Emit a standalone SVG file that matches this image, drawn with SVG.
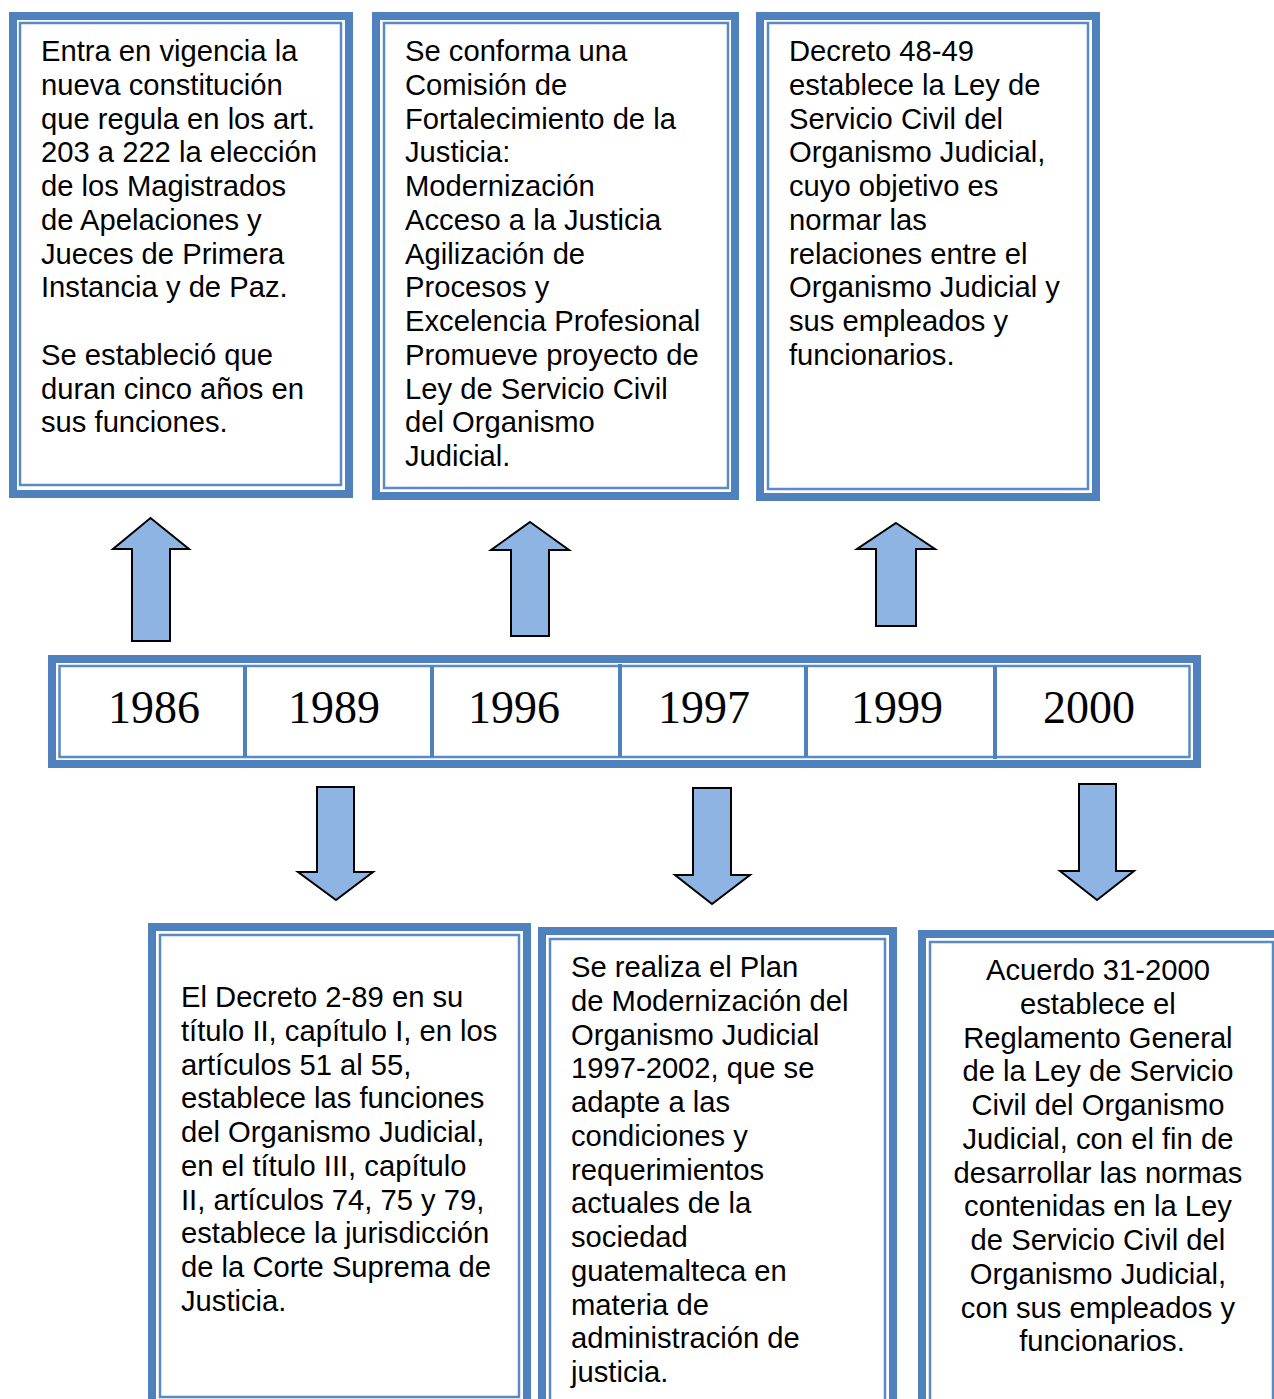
<svg xmlns="http://www.w3.org/2000/svg" width="1274" height="1399" viewBox="0 0 1274 1399">
<style>
.ob{fill:#ffffff;stroke:#4F81BD;stroke-width:8}
.ib{fill:none;stroke:#5A8AC6;stroke-width:2.5}
.t{font-family:"Liberation Sans",Arial,sans-serif;font-size:29.2px;fill:#000}
.c{text-anchor:middle}
.yr{font-family:"Liberation Serif","Times New Roman",serif;font-size:46px;fill:#000;text-anchor:middle}
.ar{fill:#8EB4E3;stroke:#000;stroke-width:2;stroke-linejoin:miter}
.dv{stroke:#4F81BD;stroke-width:4}
</style>
<rect width="1274" height="1399" fill="#ffffff"/>

<g id="box-1986">
<rect class="ob" x="13" y="16" width="336" height="478"/>
<rect class="ib" x="20" y="23" width="321" height="462"/>
<text class="t">
<tspan x="41" y="61">Entra en vigencia la</tspan>
<tspan x="41" y="94.75">nueva constitución</tspan>
<tspan x="41" y="128.5">que regula en los art.</tspan>
<tspan x="41" y="162.25">203 a 222 la elección</tspan>
<tspan x="41" y="196">de los Magistrados</tspan>
<tspan x="41" y="229.75">de Apelaciones y</tspan>
<tspan x="41" y="263.5">Jueces de Primera</tspan>
<tspan x="41" y="297.25">Instancia y de Paz.</tspan>
<tspan x="41" y="364.75">Se estableció que</tspan>
<tspan x="41" y="398.5">duran cinco años en</tspan>
<tspan x="41" y="432.25">sus funciones.</tspan>
</text>
</g>

<g id="box-1996">
<rect class="ob" x="376" y="16" width="359" height="480"/>
<rect class="ib" x="384" y="23" width="344" height="465"/>
<text class="t">
<tspan x="405" y="61">Se conforma una</tspan>
<tspan x="405" y="94.75">Comisión de</tspan>
<tspan x="405" y="128.5">Fortalecimiento de la</tspan>
<tspan x="405" y="162.25">Justicia:</tspan>
<tspan x="405" y="196">Modernización</tspan>
<tspan x="405" y="229.75">Acceso a la Justicia</tspan>
<tspan x="405" y="263.5">Agilización de</tspan>
<tspan x="405" y="297.25">Procesos y</tspan>
<tspan x="405" y="331">Excelencia Profesional</tspan>
<tspan x="405" y="364.75">Promueve proyecto de</tspan>
<tspan x="405" y="398.5">Ley de Servicio Civil</tspan>
<tspan x="405" y="432.25">del Organismo</tspan>
<tspan x="405" y="466">Judicial.</tspan>
</text>
</g>

<g id="box-1999">
<rect class="ob" x="760" y="16" width="336" height="481"/>
<rect class="ib" x="768" y="23" width="320" height="466"/>
<text class="t">
<tspan x="789" y="61">Decreto 48-49</tspan>
<tspan x="789" y="94.75">establece la Ley de</tspan>
<tspan x="789" y="128.5">Servicio Civil del</tspan>
<tspan x="789" y="162.25">Organismo Judicial,</tspan>
<tspan x="789" y="196">cuyo objetivo es</tspan>
<tspan x="789" y="229.75">normar las</tspan>
<tspan x="789" y="263.5">relaciones entre el</tspan>
<tspan x="789" y="297.25">Organismo Judicial y</tspan>
<tspan x="789" y="331">sus empleados y</tspan>
<tspan x="789" y="364.75">funcionarios.</tspan>
</text>
</g>

<g id="timeline">
<rect class="ob" x="52" y="659" width="1145" height="105"/>
<rect class="ib" x="59.5" y="666" width="1130" height="91"/>
<line class="dv" x1="245" y1="666" x2="245" y2="757"/>
<line class="dv" x1="432" y1="666" x2="432" y2="757"/>
<line class="dv" x1="620" y1="664" x2="620" y2="757"/>
<line class="dv" x1="806" y1="666" x2="806" y2="757"/>
<line class="dv" x1="995" y1="666" x2="995" y2="759"/>
<text class="yr" x="154" y="723">1986</text>
<text class="yr" x="334" y="723">1989</text>
<text class="yr" x="514" y="723">1996</text>
<text class="yr" x="704" y="723">1997</text>
<text class="yr" x="897" y="723">1999</text>
<text class="yr" x="1089" y="723">2000</text>
</g>

<g id="box-1989">
<rect class="ob" x="152" y="927" width="375" height="490"/>
<rect class="ib" x="160" y="935" width="359" height="462"/>
<text class="t">
<tspan x="181" y="1007">El Decreto 2-89 en su</tspan>
<tspan x="181" y="1040.75">título II, capítulo I, en los</tspan>
<tspan x="181" y="1074.5">artículos 51 al 55,</tspan>
<tspan x="181" y="1108.25">establece las funciones</tspan>
<tspan x="181" y="1142">del Organismo Judicial,</tspan>
<tspan x="181" y="1175.75">en el título III, capítulo</tspan>
<tspan x="181" y="1209.5">II, artículos 74, 75 y 79,</tspan>
<tspan x="181" y="1243.25">establece la jurisdicción</tspan>
<tspan x="181" y="1277">de la Corte Suprema de</tspan>
<tspan x="181" y="1310.75">Justicia.</tspan>
</text>
</g>

<g id="box-1997">
<rect class="ob" x="542" y="931" width="351" height="490"/>
<rect class="ib" x="550" y="939" width="335" height="470"/>
<text class="t">
<tspan x="571" y="977">Se realiza el Plan</tspan>
<tspan x="571" y="1010.75">de Modernización del</tspan>
<tspan x="571" y="1044.5">Organismo Judicial</tspan>
<tspan x="571" y="1078.25">1997-2002, que se</tspan>
<tspan x="571" y="1112">adapte a las</tspan>
<tspan x="571" y="1145.75">condiciones y</tspan>
<tspan x="571" y="1179.5">requerimientos</tspan>
<tspan x="571" y="1213.25">actuales de la</tspan>
<tspan x="571" y="1247">sociedad</tspan>
<tspan x="571" y="1280.75">guatemalteca en</tspan>
<tspan x="571" y="1314.5">materia de</tspan>
<tspan x="571" y="1348.25">administración de</tspan>
<tspan x="571" y="1382">justicia.</tspan>
</text>
</g>

<g id="box-2000">
<rect class="ob" x="922" y="934" width="370" height="490"/>
<rect class="ib" x="930" y="942" width="343" height="470"/>
<text class="t c">
<tspan x="1102" y="980">Acuerdo 31-2000</tspan>
<tspan x="1102" y="1013.75">establece el</tspan>
<tspan x="1102" y="1047.5">Reglamento General</tspan>
<tspan x="1102" y="1081.25">de la Ley de Servicio</tspan>
<tspan x="1102" y="1115">Civil del Organismo</tspan>
<tspan x="1102" y="1148.75">Judicial, con el fin de</tspan>
<tspan x="1102" y="1182.5">desarrollar las normas</tspan>
<tspan x="1102" y="1216.25">contenidas en la Ley</tspan>
<tspan x="1102" y="1250">de Servicio Civil del</tspan>
<tspan x="1102" y="1283.75">Organismo Judicial,</tspan>
<tspan x="1102" y="1317.5">con sus empleados y</tspan>
<tspan x="1102" y="1351.25">funcionarios.</tspan>
</text>
</g>

<g id="connectors">
<polygon class="ar" points="150.5,518 189,549 170,549 170,641 132,641 132,549 113,549"/>
<polygon class="ar" points="530,522 569,550 549,550 549,636 511,636 511,550 491,550"/>
<polygon class="ar" points="896,523 935,549 916,549 916,626 876,626 876,549 857,549"/>
<polygon class="ar" points="317,787 354,787 354,872 373,872 336,900 298,872 317,872"/>
<polygon class="ar" points="693,788 731,788 731,875 750,875 712,904 675,875 693,875"/>
<polygon class="ar" points="1079,784 1116,784 1116,871 1134,871 1097,900 1060,871 1079,871"/>
</g>
</svg>
